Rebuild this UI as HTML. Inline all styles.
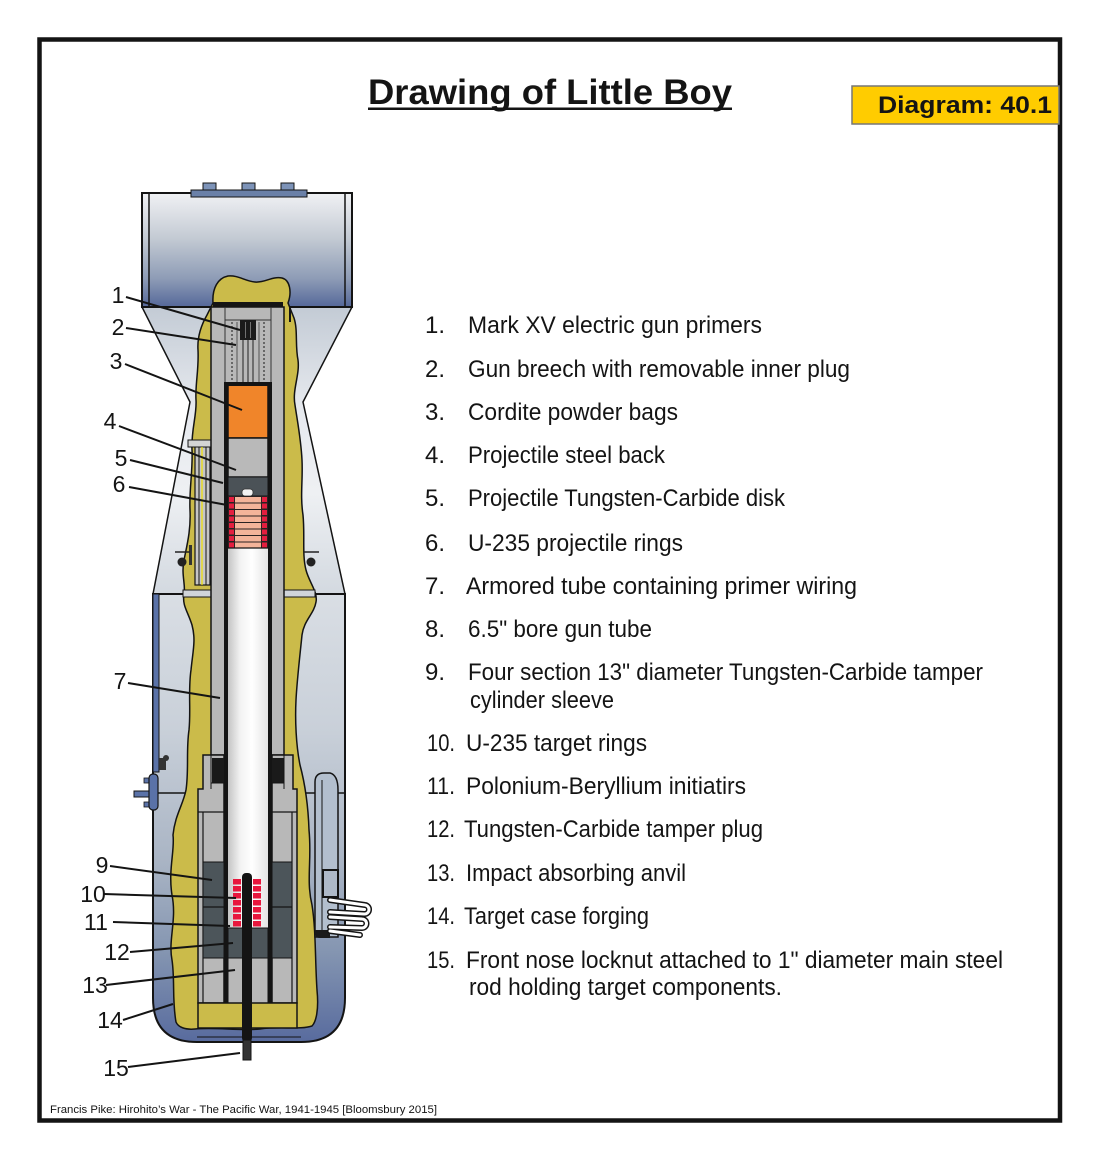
<!DOCTYPE html>
<html><head><meta charset="utf-8"><style>
html,body{margin:0;padding:0;background:#fff;}
svg{display:block;}
text{font-family:"Liberation Sans",sans-serif;fill:#141414;}
</style></head><body>
<svg width="1100" height="1161" viewBox="0 0 1100 1161" xmlns="http://www.w3.org/2000/svg">
<defs>
<linearGradient id="boxg" x1="0" y1="193" x2="0" y2="307" gradientUnits="userSpaceOnUse">
<stop offset="0" stop-color="#f0f1f4"/><stop offset="0.4" stop-color="#c3cad3"/><stop offset="0.75" stop-color="#8e9cb6"/><stop offset="1" stop-color="#55689a"/>
</linearGradient>
<linearGradient id="fing" x1="0" y1="307" x2="0" y2="594" gradientUnits="userSpaceOnUse">
<stop offset="0" stop-color="#c3cbd5"/><stop offset="0.35" stop-color="#e6e9ee"/><stop offset="0.65" stop-color="#eef0f3"/><stop offset="1" stop-color="#d3d9e0"/>
</linearGradient>
<linearGradient id="bodyg" x1="0" y1="594" x2="0" y2="1042" gradientUnits="userSpaceOnUse">
<stop offset="0" stop-color="#d9dee4"/><stop offset="0.3" stop-color="#c9d0d9"/><stop offset="0.6" stop-color="#a9b4c4"/><stop offset="0.8" stop-color="#8495b1"/><stop offset="1" stop-color="#586b9e"/>
</linearGradient>
<linearGradient id="boreg" x1="228" y1="0" x2="268" y2="0" gradientUnits="userSpaceOnUse">
<stop offset="0" stop-color="#c4c4c4"/><stop offset="0.3" stop-color="#f2f2f2"/><stop offset="0.6" stop-color="#ffffff"/><stop offset="1" stop-color="#e4e4e4"/>
</linearGradient>
</defs>
<rect width="1100" height="1161" fill="#fff"/>
<rect x="39.5" y="39.5" width="1020.5" height="1081" fill="none" stroke="#141414" stroke-width="4.5"/>

<!-- Title -->
<text x="368" y="104" font-size="35" font-weight="bold" textLength="364" lengthAdjust="spacingAndGlyphs">Drawing of Little Boy</text>
<rect x="368" y="107.5" width="364" height="2.5" fill="#141414"/>
<rect x="852" y="86" width="207" height="38" fill="#ffcc00" stroke="#777" stroke-width="1.5"/>
<text x="878" y="113" font-size="24" font-weight="bold" textLength="174" lengthAdjust="spacingAndGlyphs">Diagram: 40.1</text>

<!-- Fin -->
<polygon points="142,307 190,402 153,594 345,594 303,402 352,307" fill="url(#fing)" stroke="#141414" stroke-width="1.5"/>
<!-- Body -->
<path d="M153,594 L345,594 L345,998 Q345,1042 301,1042 L197,1042 Q153,1042 153,998 Z" fill="url(#bodyg)" stroke="#141414" stroke-width="2"/>
<line x1="153" y1="793" x2="345" y2="793" stroke="#141414" stroke-width="1.5"/>
<line x1="197" y1="1037" x2="301" y2="1037" stroke="#141414" stroke-width="1"/>
<rect x="153" y="594" width="6" height="178" fill="#5a72a8" stroke="#141414" stroke-width="1"/>

<!-- Tail box -->
<rect x="142" y="193" width="210" height="114" fill="url(#boxg)" stroke="#141414" stroke-width="2"/>
<line x1="149" y1="193" x2="149" y2="307" stroke="#141414" stroke-width="1.5"/>
<line x1="345" y1="193" x2="345" y2="307" stroke="#141414" stroke-width="1.5"/>
<rect x="191" y="190" width="116" height="7" fill="#6a80a8" stroke="#141414" stroke-width="1"/>
<rect x="203" y="183" width="13" height="7" fill="#7d93b8" stroke="#141414" stroke-width="1"/>
<rect x="242" y="183" width="13" height="7" fill="#7d93b8" stroke="#141414" stroke-width="1"/>
<rect x="281" y="183" width="13" height="7" fill="#7d93b8" stroke="#141414" stroke-width="1"/>

<!-- Yellow filler -->
<path d="M213,303 C212,288 218,278 228,276 C238,275 245,281 255,282 C265,283 272,276 282,278 C290,280 292,292 288,303 L294,318 C298,330 295,345 298,360 C300,375 292,390 295,405 C298,425 301,440 302,460 C303,480 300,495 303,515 C305,535 302,555 306,570 C309,582 318,592 316,602 C314,614 304,620 302,635 C300,655 297,680 296,700 C295,720 296,745 300,765 C304,780 308,800 309,830 C312,860 306,880 312,905 C316,930 315,960 317,990 C319,1010 316,1022 312,1026 C300,1030 280,1026 260,1029 C240,1031 215,1027 195,1029 C185,1030 178,1027 176,1022 C172,1000 175,980 172,960 C168,940 177,920 172,895 C168,870 175,850 173,835 C175,815 183,805 186,790 C189,770 186,750 189,730 C191,710 188,690 191,670 C193,650 196,640 192,625 C188,612 182,605 184,595 C186,585 181,575 184,560 C187,545 191,530 190,510 C189,490 193,470 192,450 C191,430 197,415 196,400 C195,385 199,370 198,350 C197,335 203,322 207,315 Z" fill="#cbbb4a" stroke="#141414" stroke-width="1.5"/>

<!-- armored tube (7) -->
<rect x="195" y="444" width="15" height="141" fill="#c6c6c6" stroke="#141414" stroke-width="1.2"/>
<rect x="188" y="440" width="24" height="7" fill="#d4d4d4" stroke="#141414" stroke-width="1"/>
<line x1="199" y1="447" x2="199" y2="585" stroke="#141414" stroke-width="1"/>
<line x1="202" y1="447" x2="202" y2="585" stroke="#f2e000" stroke-width="1.2"/>
<line x1="206" y1="447" x2="206" y2="585" stroke="#141414" stroke-width="1"/>
<rect x="183" y="590" width="28" height="7" fill="#d0d4d9" stroke="#141414" stroke-width="1"/>
<rect x="284" y="590" width="31" height="7" fill="#d0d4d9" stroke="#141414" stroke-width="1"/>
<rect x="189" y="545" width="3" height="20" fill="#333"/>
<circle cx="182" cy="562" r="4.5" fill="#222"/>
<line x1="175" y1="552" x2="190" y2="552" stroke="#222" stroke-width="1.5"/>
<circle cx="311" cy="562" r="4.5" fill="#222"/>
<line x1="304" y1="552" x2="319" y2="552" stroke="#222" stroke-width="1.5"/>

<!-- Gun tube -->
<rect x="211" y="307" width="73" height="448" fill="#b8b8b8" stroke="#141414" stroke-width="1.5"/>
<rect x="228" y="383" width="40" height="372" fill="url(#boreg)"/>
<rect x="224" y="383" width="4" height="620" fill="#141414"/>
<rect x="268" y="383" width="4" height="620" fill="#141414"/>
<rect x="213" y="302" width="70" height="5" fill="#141414"/>
<line x1="290" y1="307" x2="290" y2="322" stroke="#141414" stroke-width="2"/>
<!-- breech -->
<line x1="225" y1="320" x2="271" y2="320" stroke="#333" stroke-width="1"/>
<line x1="225" y1="307" x2="225" y2="383" stroke="#333" stroke-width="1"/>
<line x1="271" y1="307" x2="271" y2="383" stroke="#333" stroke-width="1"/>
<line x1="232" y1="322" x2="232" y2="383" stroke="#333" stroke-width="1.2" stroke-dasharray="2,2"/>
<line x1="264" y1="322" x2="264" y2="383" stroke="#333" stroke-width="1.2" stroke-dasharray="2,2"/>
<line x1="237" y1="322" x2="237" y2="383" stroke="#555" stroke-width="1"/>
<line x1="259" y1="322" x2="259" y2="383" stroke="#555" stroke-width="1"/>
<rect x="240" y="320" width="16" height="20" fill="#1a1a1a"/>
<line x1="245.5" y1="322" x2="245.5" y2="338" stroke="#888" stroke-width="0.8"/>
<line x1="250.5" y1="322" x2="250.5" y2="338" stroke="#888" stroke-width="0.8"/>
<line x1="243" y1="340" x2="243" y2="383" stroke="#222" stroke-width="1"/>
<line x1="248" y1="340" x2="248" y2="383" stroke="#222" stroke-width="1"/>
<line x1="253" y1="340" x2="253" y2="383" stroke="#222" stroke-width="1"/>
<!-- cordite -->
<rect x="228" y="385" width="40" height="53" fill="#f0852a" stroke="#141414" stroke-width="1.5"/>
<rect x="224" y="382" width="48" height="4" fill="#141414"/>
<!-- steel back -->
<rect x="228" y="438" width="40" height="39" fill="#b9b9b9" stroke="#141414" stroke-width="1.5"/>
<!-- disk -->
<rect x="228" y="477" width="40" height="19" fill="#4b5257" stroke="#141414" stroke-width="1"/>
<rect x="242" y="489" width="11" height="7" rx="3" fill="#f2f2f2" stroke="#333" stroke-width="0.8"/>
<!-- projectile rings -->
<rect x="228" y="496" width="40" height="52" fill="#2a2222"/>
<g fill="#e41e3f">
<rect x="229" y="497" width="5" height="5"/><rect x="229" y="503.5" width="5" height="5"/><rect x="229" y="510" width="5" height="5"/><rect x="229" y="516.5" width="5" height="5"/><rect x="229" y="523" width="5" height="5"/><rect x="229" y="529.5" width="5" height="5"/><rect x="229" y="536" width="5" height="5"/><rect x="229" y="542.5" width="5" height="5"/>
<rect x="262" y="497" width="5" height="5"/><rect x="262" y="503.5" width="5" height="5"/><rect x="262" y="510" width="5" height="5"/><rect x="262" y="516.5" width="5" height="5"/><rect x="262" y="523" width="5" height="5"/><rect x="262" y="529.5" width="5" height="5"/><rect x="262" y="536" width="5" height="5"/><rect x="262" y="542.5" width="5" height="5"/>
</g>
<g fill="#f4b49a">
<rect x="235" y="497" width="26" height="5.5"/><rect x="235" y="503.5" width="26" height="5.5"/><rect x="235" y="510" width="26" height="5.5"/><rect x="235" y="516.5" width="26" height="5.5"/><rect x="235" y="523" width="26" height="5.5"/><rect x="235" y="529.5" width="26" height="5.5"/><rect x="235" y="536" width="26" height="5.5"/><rect x="235" y="542.5" width="26" height="5"/>
</g>
<line x1="228" y1="548" x2="268" y2="548" stroke="#141414" stroke-width="1.2"/>

<!-- Lower gun / target section -->
<path d="M211,755 L203,755 L203,789 L198,789 L198,1003 L224,1003 L224,755 Z" fill="#b8b8b8" stroke="#141414" stroke-width="1.5"/>
<path d="M284,755 L293,755 L293,789 L297,789 L297,1003 L272,1003 L272,755 Z" fill="#b8b8b8" stroke="#141414" stroke-width="1.5"/>
<rect x="228" y="755" width="40" height="173" fill="url(#boreg)"/>
<rect x="212" y="758" width="12" height="25" fill="#1a1a1a"/>
<rect x="272" y="758" width="12" height="25" fill="#1a1a1a"/>
<line x1="211" y1="783" x2="224" y2="783" stroke="#141414" stroke-width="1"/>
<line x1="272" y1="783" x2="284" y2="783" stroke="#141414" stroke-width="1"/>
<line x1="211" y1="755" x2="211" y2="789" stroke="#141414" stroke-width="1"/>
<line x1="284" y1="755" x2="284" y2="789" stroke="#141414" stroke-width="1"/>
<line x1="198" y1="812" x2="224" y2="812" stroke="#141414" stroke-width="1.2"/>
<line x1="272" y1="812" x2="297" y2="812" stroke="#141414" stroke-width="1.2"/>
<line x1="203" y1="812" x2="203" y2="1003" stroke="#141414" stroke-width="1.2"/>
<line x1="292" y1="812" x2="292" y2="1003" stroke="#141414" stroke-width="1.2"/>
<rect x="203" y="862" width="21" height="96" fill="#4c555a" stroke="#141414" stroke-width="1"/>
<rect x="272" y="862" width="20" height="96" fill="#4c555a" stroke="#141414" stroke-width="1"/>
<line x1="203" y1="907" x2="224" y2="907" stroke="#141414" stroke-width="1.2"/>
<line x1="272" y1="907" x2="292" y2="907" stroke="#141414" stroke-width="1.2"/>
<rect x="228" y="958" width="40" height="45" fill="#b8b8b8" stroke="#141414" stroke-width="1"/>
<rect x="228" y="928" width="40" height="30" fill="#4c555a" stroke="#141414" stroke-width="1"/>
<g fill="#e8173d">
<rect x="233" y="879" width="8" height="5.5"/><rect x="233" y="886" width="8" height="5.5"/><rect x="233" y="893" width="8" height="5.5"/><rect x="233" y="900" width="8" height="5.5"/><rect x="233" y="907" width="8" height="5.5"/><rect x="233" y="914" width="8" height="5.5"/><rect x="233" y="921" width="8" height="5.5"/>
<rect x="253" y="879" width="8" height="5.5"/><rect x="253" y="886" width="8" height="5.5"/><rect x="253" y="893" width="8" height="5.5"/><rect x="253" y="900" width="8" height="5.5"/><rect x="253" y="907" width="8" height="5.5"/><rect x="253" y="914" width="8" height="5.5"/><rect x="253" y="921" width="8" height="5.5"/>
</g>
<rect x="198" y="1003" width="99" height="25" fill="#cbbb4a" stroke="#141414" stroke-width="1.5"/>
<rect x="242" y="873" width="10" height="169" rx="4" fill="#141414"/>
<rect x="243" y="1040" width="8" height="20" fill="#333" stroke="#141414" stroke-width="1"/>

<!-- right fuse box -->
<path d="M315,937 L315,782 Q315,773 324,773 L330,773 Q338,775 338,790 L338,937 Z" fill="#b3bfce" stroke="#141414" stroke-width="1.5"/>
<line x1="322" y1="780" x2="322" y2="932" stroke="#141414" stroke-width="1"/>
<rect x="323" y="870" width="15" height="27" fill="#aeb9c8" stroke="#141414" stroke-width="2"/>
<path d="M315,930 L330,930 L330,938 L320,938 Q315,938 315,933 Z" fill="#1a1a1a"/>
<g fill="none" stroke-linecap="round">
<path d="M330,900 L365,905 A4.5,4.5 0 0 1 364,914 L330,912" stroke="#141414" stroke-width="6"/>
<path d="M330,917 L362,919 A4.5,4.5 0 0 1 362,928 L330,927" stroke="#141414" stroke-width="6"/>
<path d="M330,931 L360,935" stroke="#141414" stroke-width="6"/>
<path d="M330,900 L365,905 A4.5,4.5 0 0 1 364,914 L330,912" stroke="#fff" stroke-width="3"/>
<path d="M330,917 L362,919 A4.5,4.5 0 0 1 362,928 L330,927" stroke="#fff" stroke-width="3"/>
<path d="M330,931 L360,935" stroke="#fff" stroke-width="3"/>
</g>

<!-- left fitting -->
<rect x="159" y="758" width="7" height="12" fill="#333"/>
<circle cx="166" cy="758" r="3" fill="#333"/>
<rect x="134" y="791" width="16" height="6" fill="#5a72a8" stroke="#141414" stroke-width="1"/>
<rect x="144" y="778" width="5" height="5" fill="#5a72a8" stroke="#141414" stroke-width="0.8"/>
<rect x="144" y="802" width="5" height="5" fill="#5a72a8" stroke="#141414" stroke-width="0.8"/>
<rect x="149" y="774" width="9" height="36" rx="4" fill="#5a72a8" stroke="#141414" stroke-width="1.2"/>

<!-- leader lines -->
<g stroke="#141414" stroke-width="2" fill="none">
<line x1="126" y1="297" x2="240" y2="330"/>
<line x1="126" y1="328" x2="236" y2="345"/>
<line x1="125" y1="364" x2="242" y2="410"/>
<line x1="119" y1="426" x2="236" y2="470"/>
<line x1="130" y1="460" x2="223" y2="483"/>
<line x1="129" y1="487" x2="227" y2="505"/>
<line x1="128" y1="683" x2="220" y2="698"/>
<line x1="110" y1="866" x2="212" y2="880"/>
<line x1="104" y1="894" x2="236" y2="898"/>
<line x1="113" y1="922" x2="230" y2="926"/>
<line x1="130" y1="952" x2="233" y2="943"/>
<line x1="106" y1="985" x2="235" y2="970"/>
<line x1="123" y1="1020" x2="173" y2="1004"/>
<line x1="128" y1="1067" x2="240" y2="1053"/>
</g>
<g font-size="23" text-anchor="middle">
<text x="118" y="303">1</text>
<text x="118" y="335">2</text>
<text x="116" y="369">3</text>
<text x="110" y="429">4</text>
<text x="121" y="466">5</text>
<text x="119" y="492">6</text>
<text x="120" y="689">7</text>
<text x="102" y="873">9</text>
<text x="93" y="902">10</text>
<text x="96" y="930">11</text>
<text x="117" y="960">12</text>
<text x="95" y="993">13</text>
<text x="110" y="1028">14</text>
<text x="116" y="1076">15</text>
</g>

<!-- list -->
<g font-size="24">
<text x="425" y="333">1.</text><text x="468" y="333" textLength="294" lengthAdjust="spacingAndGlyphs">Mark XV electric gun primers</text>
<text x="425" y="377">2.</text><text x="468" y="377" textLength="382" lengthAdjust="spacingAndGlyphs">Gun breech with removable inner plug</text>
<text x="425" y="420">3.</text><text x="468" y="420" textLength="210" lengthAdjust="spacingAndGlyphs">Cordite powder bags</text>
<text x="425" y="463">4.</text><text x="468" y="463" textLength="197" lengthAdjust="spacingAndGlyphs">Projectile steel back</text>
<text x="425" y="506">5.</text><text x="468" y="506" textLength="317" lengthAdjust="spacingAndGlyphs">Projectile Tungsten-Carbide disk</text>
<text x="425" y="551">6.</text><text x="468" y="551" textLength="215" lengthAdjust="spacingAndGlyphs">U-235 projectile rings</text>
<text x="425" y="594">7.</text><text x="466" y="594" textLength="391" lengthAdjust="spacingAndGlyphs">Armored tube containing primer wiring</text>
<text x="425" y="637">8.</text><text x="468" y="637" textLength="184" lengthAdjust="spacingAndGlyphs">6.5" bore gun tube</text>
<text x="425" y="680">9.</text><text x="468" y="680" textLength="515" lengthAdjust="spacingAndGlyphs">Four section 13" diameter Tungsten-Carbide tamper</text>
<text x="470" y="708" textLength="144" lengthAdjust="spacingAndGlyphs">cylinder sleeve</text>
<text x="427" y="751" textLength="28" lengthAdjust="spacingAndGlyphs">10.</text><text x="466" y="751" textLength="181" lengthAdjust="spacingAndGlyphs">U-235 target rings</text>
<text x="427" y="794" textLength="28" lengthAdjust="spacingAndGlyphs">11.</text><text x="466" y="794" textLength="280" lengthAdjust="spacingAndGlyphs">Polonium-Beryllium initiatirs</text>
<text x="427" y="837" textLength="28" lengthAdjust="spacingAndGlyphs">12.</text><text x="464" y="837" textLength="299" lengthAdjust="spacingAndGlyphs">Tungsten-Carbide tamper plug</text>
<text x="427" y="881" textLength="28" lengthAdjust="spacingAndGlyphs">13.</text><text x="466" y="881" textLength="220" lengthAdjust="spacingAndGlyphs">Impact absorbing anvil</text>
<text x="427" y="924" textLength="28" lengthAdjust="spacingAndGlyphs">14.</text><text x="464" y="924" textLength="185" lengthAdjust="spacingAndGlyphs">Target case forging</text>
<text x="427" y="968" textLength="28" lengthAdjust="spacingAndGlyphs">15.</text><text x="466" y="968" textLength="537" lengthAdjust="spacingAndGlyphs">Front nose locknut attached to 1" diameter main steel</text>
<text x="469" y="995" textLength="313" lengthAdjust="spacingAndGlyphs">rod holding target components.</text>
</g>

<text x="50" y="1113" font-size="11" textLength="387" lengthAdjust="spacingAndGlyphs">Francis Pike:  Hirohito’s War - The Pacific War, 1941-1945   [Bloomsbury 2015]</text>
</svg>
</body></html>
